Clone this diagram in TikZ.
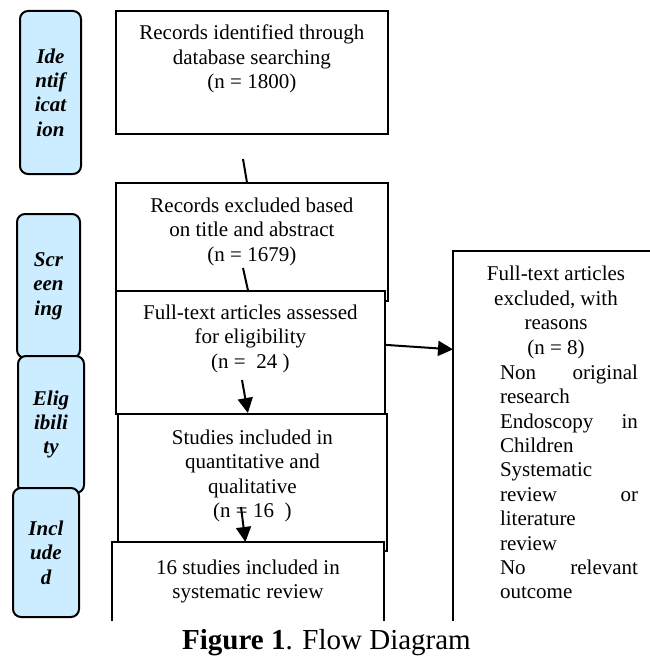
\documentclass[tikz,border=0pt]{standalone}
\usepackage{fontspec}
\setmainfont{Liberation Serif}
\usetikzlibrary{arrows.meta}
\definecolor{stagebg}{RGB}{204,236,255}

\begin{document}
\begin{tikzpicture}[
  x=0.5pt, y=-0.5pt,
  stage/.style={draw, line width=1pt, rounded corners=4pt, fill=stagebg, anchor=north west, inner sep=0pt, align=center, font=\fontsize{10.5}{12.2}\selectfont\bfseries\itshape},
  box/.style={draw, line width=0.9pt, fill=white, anchor=north west, inner sep=0pt},
  openbox/.style={fill=white, anchor=north west, inner sep=0pt},
  txt/.style={align=center, inner sep=0pt, font=\fontsize{10.5}{12.2}\selectfont},
  link/.style={line width=1pt},
  arr/.style={line width=1pt, -{Triangle[length=7.5pt, width=7.5pt]}},
]
\useasboundingbox (0,0) rectangle (649,658);

% stages
\node[stage, minimum width=30.5pt, minimum height=81.5pt] (ident) at (19,10) {Ide\\ntif\\icat\\ion};
\node[stage, minimum width=31.5pt, minimum height=72pt] (screen) at (16,213) {Scr\\een\\ing};
\node[stage, minimum width=33pt, minimum height=68.5pt] (elig) at (17,355) {Elig\\ibili\\ty};
\node[stage, minimum width=33pt, minimum height=64.5pt] (incl) at (12,487) {Incl\\ude\\d};

% main column
\node[box, minimum width=136pt, minimum height=61.5pt] (recs) at (115,10) {};
\node[txt] (recstxt) at ([yshift=6.75pt]recs.center) {Records identified through\\database searching\\(n = 1800)};
\node[box, minimum width=136pt, minimum height=59pt] (excl) at (115,182) {};
\node[txt] (excltxt) at ([yshift=5pt]excl.center) {Records excluded based\\on title and abstract\\(n = 1679)};
\node[box, minimum width=134.5pt, minimum height=61.5pt] (full) at (115,290) {};
\node[txt] (fulltxt) at ([yshift=6.75pt]full.center) {Full-text articles assessed\\for eligibility\\(n = \ 24 )};
\node[box, minimum width=134.5pt, minimum height=68.5pt] (stud) at (117,413) {};
\node[txt] (studtxt) at ([yshift=3.25pt]stud.center) {Studies included in\\quantitative and\\qualitative\\(n = 16 \ )};
\node[openbox, minimum width=135.5pt, minimum height=39pt] (final) at (112,542) {};
\draw[line width=0.9pt] (final.south west) -- (final.north west) -- (final.north east) -- (final.south east);
\node[txt] (finaltxt) at (final.center) {16 studies included in\\systematic review};

% exclusions
\node[openbox, minimum width=98pt, minimum height=184.5pt] (reas) at (453,251) {};
\draw[line width=0.9pt] (reas.south west) -- (reas.north west) -- (reas.north east);
\node[txt] (reashead) at (556,312.5) {Full-text articles\\excluded, with\\reasons\\(n = 8)};
\node[txt, text width=69pt, align=left] (reaslist) at (569,482) {Non\hfill original\\research\\Endoscopy\hfill in\\Children\\Systematic\\review\hfill or\\literature\\review\\No\hfill relevant\\outcome};

\coordinate (gap1) at (243,159);
\coordinate (gap2) at (243,268);
\coordinate (gap3) at (242,380);
\coordinate (gap4) at (241,507);
\draw[link] (gap1) -- ([xshift=-2.5pt]excl.north);
\draw[link] (gap2) -- ([xshift=-1.25pt]full.north);
\draw[arr] (gap3) -- ([xshift=-2.25pt]stud.north);
\draw[arr] (gap4) -- ([xshift=-1.25pt]final.north);
\draw[arr] ([yshift=3.75pt]full.east) -- ([yshift=43.25pt]reas.west);

\node[font=\fontsize{14.5}{17}\selectfont, anchor=base] (caption) at (326.5,649) {\textbf{Figure 1}. Flow Diagram};
\end{tikzpicture}
\end{document}
